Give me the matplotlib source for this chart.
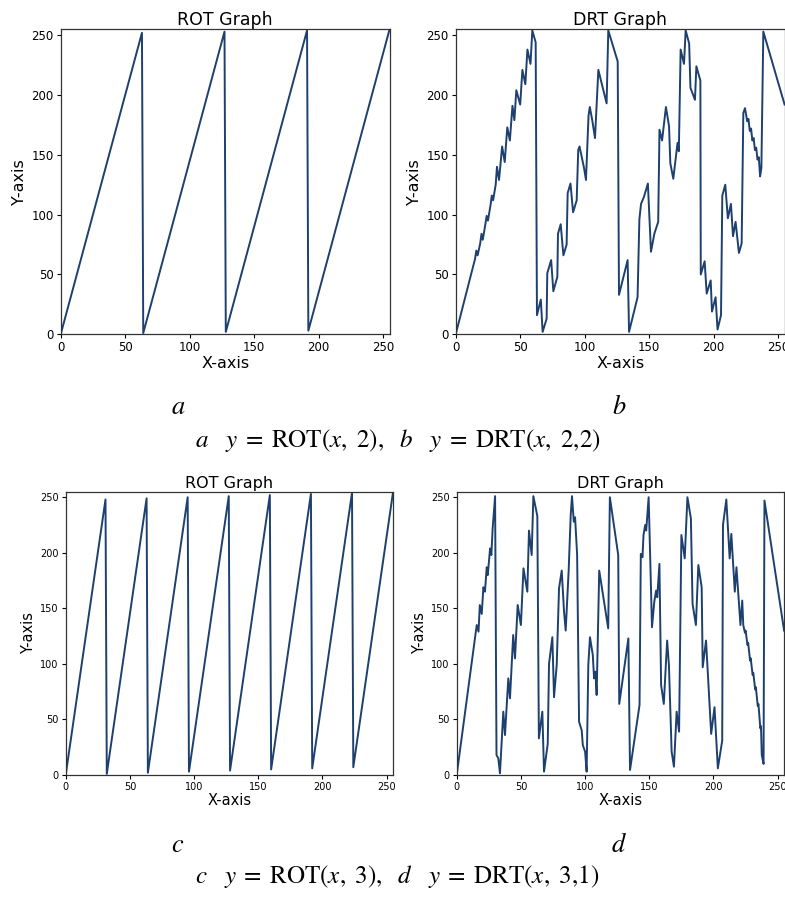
import matplotlib
matplotlib.use('Agg')
import matplotlib.pyplot as plt

plt.rcParams['font.family'] = ['DejaVu Sans']
plt.rcParams['mathtext.fontset'] = 'stix'

# ROT(x,2): sawtooth breakpoints
rot2_x = [0, 63, 64, 127, 128, 191, 192, 255]
rot2_y = [0, 252, 1, 253, 2, 254, 3, 255]

# DRT(x,2,2): panel b
drt22_x = [0, 15, 16, 17, 19, 20, 21, 23, 24, 25, 27, 28, 29, 31, 32, 33.6, 36, 38, 40, 42,
           44, 45.5, 47, 50, 51.7, 54, 55.6, 58, 59.4, 62, 63, 66, 67.4, 70.5, 71, 74,
           75.7, 78.8, 79.3, 81.4, 83.5, 86, 86.8, 89, 91, 93.8, 95, 96, 99.5, 101, 103,
           104, 106, 108, 110.6, 117, 118.3, 125.6, 126.6, 133.3, 134.4, 141, 142.4,
           143.7, 146, 149, 151.4, 154, 157, 158, 160, 163, 165.4, 166.4, 168.7, 172,
           173, 174.4, 177, 178.3, 181, 182, 185.5, 186.6, 189.7, 190, 193, 194.6,
           197.7, 198.7, 201.5, 203, 205.7, 206.7, 209, 211, 213.4, 215, 217, 219.6,
           221.7, 223, 224.3, 226, 227, 228, 229, 230, 231, 232, 233, 234, 235, 236,
           237, 238.5, 255]
drt22_y = [0, 63, 70, 66, 76, 84, 79, 92, 99, 95, 108, 116, 112, 125, 140, 129, 157, 144, 173, 162,
           191, 179, 204, 192, 221, 209, 238, 226, 254, 244, 16, 29, 2, 13, 51, 62,
           36, 48, 84, 92, 66, 75, 118, 126, 102, 112, 154, 157, 139, 129, 183,
           190, 178, 164, 221, 193, 254, 228, 33, 62, 2, 31, 96,
           109, 115, 126, 69, 84, 94, 171, 162, 190, 174, 143, 130, 160,
           153, 238, 226, 254, 243, 206, 196, 224, 212, 50, 61, 34,
           45, 19, 31, 4, 16, 116, 125, 97, 109, 82, 94, 68,
           76, 185, 189, 178, 180, 170, 172, 162, 164, 154, 156, 146, 148, 132,
           139, 253, 192]

# ROT(x,3): panel c
rot3_x = [0, 31, 32, 63, 64, 95, 96, 127, 128, 159, 160, 191, 192, 223, 224, 255]
rot3_y = [0, 248, 1, 249, 2, 250, 3, 251, 4, 252, 5, 253, 6, 254, 7, 255]

# DRT(x,3,1): panel d
drt31_x = [0, 15.6, 17, 18, 19.5, 20.8, 22, 23.4, 24.2, 26, 27, 28, 28.6, 29.9, 31, 32.4, 33.7,
           36.3, 37.6, 40.2, 41.5, 44, 45.4, 47.5, 50, 52, 55, 56.3, 58.4, 59.7, 62.8, 64,
           66.7, 68, 70.9, 71.9, 74.5, 75.8, 77.9, 79.7, 81.8, 83.6, 84.9, 87.2, 88.8,
           89.8, 91.2, 92.2, 93.8, 95.3, 97.4, 98.2, 100, 101.2, 102.5, 103.8, 106, 107,
           108, 109, 111, 118, 119.3, 125.8, 126.6, 133.7, 135, 142.4, 143.4, 144.7,
           145.5, 146.8, 147.6, 149.5, 152.1, 153.9, 155.3, 156.2, 157.9, 159.2, 161.3,
           163.9, 165.3, 167.4, 169.2, 171.3, 173.2, 175, 177.6, 179.7, 182.4, 183.7,
           186.3, 188.2, 190.8, 191.6, 194.2, 198.2, 200.8, 203.4, 206.8, 207.4, 210,
           212.6, 213.9, 216.6, 217.9, 221, 222.4, 223.2, 224.5, 225, 226.5, 227, 228.5,
           229, 230.5, 231, 232.5, 233, 234.5, 235, 236.5, 237, 237.6, 239, 239.7, 255]
drt31_y = [0, 135, 129, 153, 145, 169, 165, 187, 180, 204, 198, 222, 231, 251, 18, 15, 1.5,
           57, 36, 87, 69, 126, 105, 153, 135, 186, 165, 220, 198, 251, 233, 33,
           57, 3, 28, 100, 124, 70, 99, 168, 184, 147, 130, 184, 234,
           251, 228, 232, 198, 48, 40, 27, 21, 3, 99, 124, 108, 87,
           93, 72, 184, 132, 250, 198, 64, 123, 4.5, 63, 199, 196,
           216, 225, 220, 250, 133, 156, 166, 160, 190, 81, 64,
           121, 99, 21, 7.5, 57, 39, 216, 195, 250, 231, 154,
           135, 189, 169, 97, 121, 37, 61, 6, 31, 225, 248,
           195, 217, 165, 187, 135, 157, 135, 128, 130, 117, 119, 103,
           105, 90, 92, 77, 79, 62, 64, 42, 44, 18, 10, 247, 130]

line_color = '#1d406e'
ticks = [0, 50, 100, 150, 200, 250]

W, H = 785, 901
fig = plt.figure(figsize=(W / 100, H / 100), dpi=100)

# axes boxes in pixels: left, top, right, bottom
boxes = [(60.7, 29.2, 389.6, 334.3), (455.7, 29.2, 784.6, 334.3),
         (65.7, 491.7, 393.1, 775.0), (456.7, 491.7, 784.1, 775.0)]
panels = [(rot2_x, rot2_y, 'ROT Graph'), (drt22_x, drt22_y, 'DRT Graph'),
          (rot3_x, rot3_y, 'ROT Graph'), (drt31_x, drt31_y, 'DRT Graph')]

for i, ((l, t, r, b), (xs, ys, title)) in enumerate(zip(boxes, panels)):
    ax = fig.add_axes([l / W, 1 - b / H, (r - l) / W, (b - t) / H])
    ax.plot(xs, ys, color=line_color, linewidth=1.4)
    ax.set_xlim(0, 255)
    ax.set_ylim(0, 255)
    ax.set_xticks(ticks)
    ax.set_yticks(ticks)
    top_row = i < 2
    ax.tick_params(labelsize=8.5 if top_row else 7, length=3, pad=2)
    ax.set_title(title, fontsize=12.5 if top_row else 11.5, pad=3)
    ax.set_xlabel('X-axis', fontsize=11.5 if top_row else 10.5, labelpad=1)
    ax.set_ylabel('Y-axis', fontsize=11.5 if top_row else 10.5, labelpad=3)
    for s in ax.spines.values():
        s.set_color('#333333')
        s.set_linewidth(0.9)

# sub-figure letters and captions
fig.text(178 / W, 1 - 407 / H, r'$a$', fontsize=19, ha='center', va='center')
fig.text(619 / W, 1 - 407 / H, r'$b$', fontsize=19, ha='center', va='center')
fig.text(397.5 / W, 1 - 440 / H,
         r'$a\quad y\;=\;\mathrm{ROT}(x,\ 2),\ \ b\quad y\;=\;\mathrm{DRT}(x,\ 2{,}2)$',
         fontsize=18, ha='center', va='center')
fig.text(178 / W, 1 - 845 / H, r'$c$', fontsize=19, ha='center', va='center')
fig.text(619 / W, 1 - 845 / H, r'$d$', fontsize=19, ha='center', va='center')
fig.text(397.5 / W, 1 - 876 / H,
         r'$c\quad y\;=\;\mathrm{ROT}(x,\ 3),\ \ d\quad y\;=\;\mathrm{DRT}(x,\ 3{,}1)$',
         fontsize=18, ha='center', va='center')

fig.savefig('out.png', dpi=100)
